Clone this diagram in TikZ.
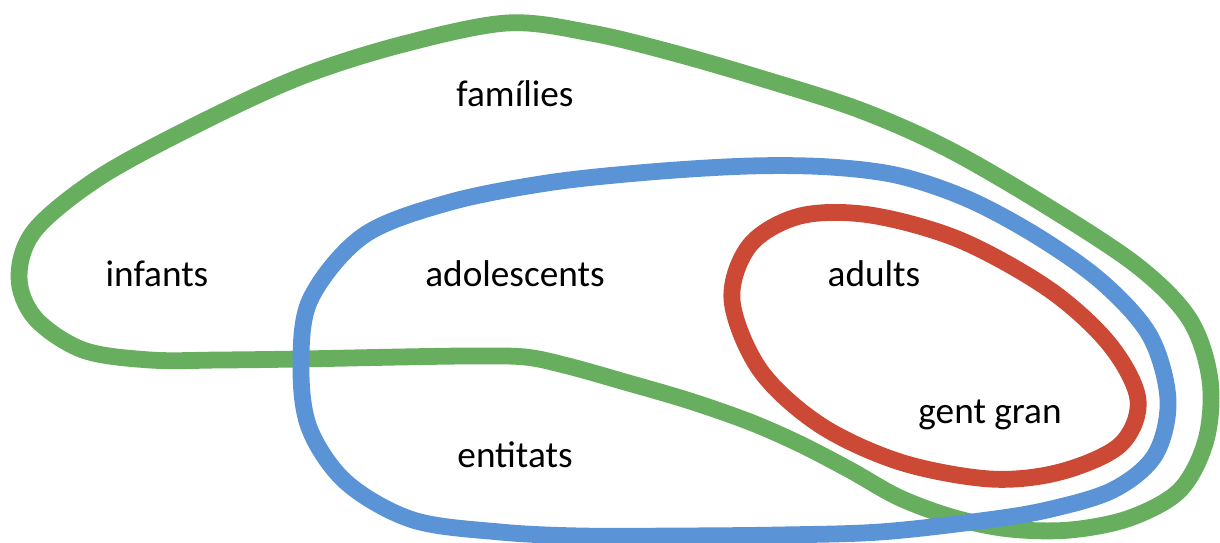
\documentclass[tikz,border=0pt]{standalone}
\usepackage{fontspec}
\setmainfont{Carlito}
\definecolor{vgreen}{HTML}{67AF5F}
\definecolor{vblue}{HTML}{5B94D6}
\definecolor{vred}{HTML}{CC4A35}
\begin{document}
\begin{tikzpicture}[x=0.025cm,y=-0.025cm,
  loop/.style={line width=0.42cm, line join=round},
  lbl/.style={font=\fontsize{26.5}{30}\selectfont, inner sep=0pt, anchor=base}]
\useasboundingbox[fill=white] (0,0) rectangle (1220,543);
% green: families
\draw[loop, vgreen] plot[smooth cycle, tension=0.55] coordinates {
 (150,360) (83,350) (35,318) (19,277) (35,230) (100,177) (200,123) (300,77)
 (400,45) (507,23) (591,33) (670,52) (760,78) (860,110) (950,150) (1053,210)
 (1140,268) (1190,320) (1210,380) (1206,440) (1180,490) (1130,518) (1070,530)
 (1010,529) (955,518) (900,498) (850,470) (800,444) (750,422) (690,401)
 (625,382) (568,366) (525,357) (470,356) (400,357) (300,359) (220,360)};
% blue: adolescents
\draw[loop, vblue] plot[smooth cycle, tension=0.55] coordinates {
 (301,370) (310,300) (363,236) (447,203) (547,183) (650,172) (750,166)
 (830,167) (900,176) (970,200) (1040,238) (1103,283) (1150,336) (1168,400)
 (1155,455) (1113,490) (1047,510) (980,521) (880,532) (780,535) (680,536)
 (580,536) (500,532) (413,520) (347,483) (310,430)};
% red: adults
\draw[loop, vred] plot[smooth cycle, tension=0.55] coordinates {
 (732,300) (750,245) (800,216) (870,215) (960,240) (1050,290) (1110,345)
 (1138,400) (1120,445) (1060,472) (990,479) (900,462) (820,425) (760,370)};
\node[lbl] (fam) at (515,107) {famílies};
\node[lbl] (inf) at (157,287) {infants};
\node[lbl] (ado) at (515,287) {adolescents};
\node[lbl] (adu) at (874,287) {adults};
\node[lbl] (gen) at (990,423) {gent gran};
\node[lbl] (ent) at (515,467) {entitats};
\end{tikzpicture}
\end{document}
